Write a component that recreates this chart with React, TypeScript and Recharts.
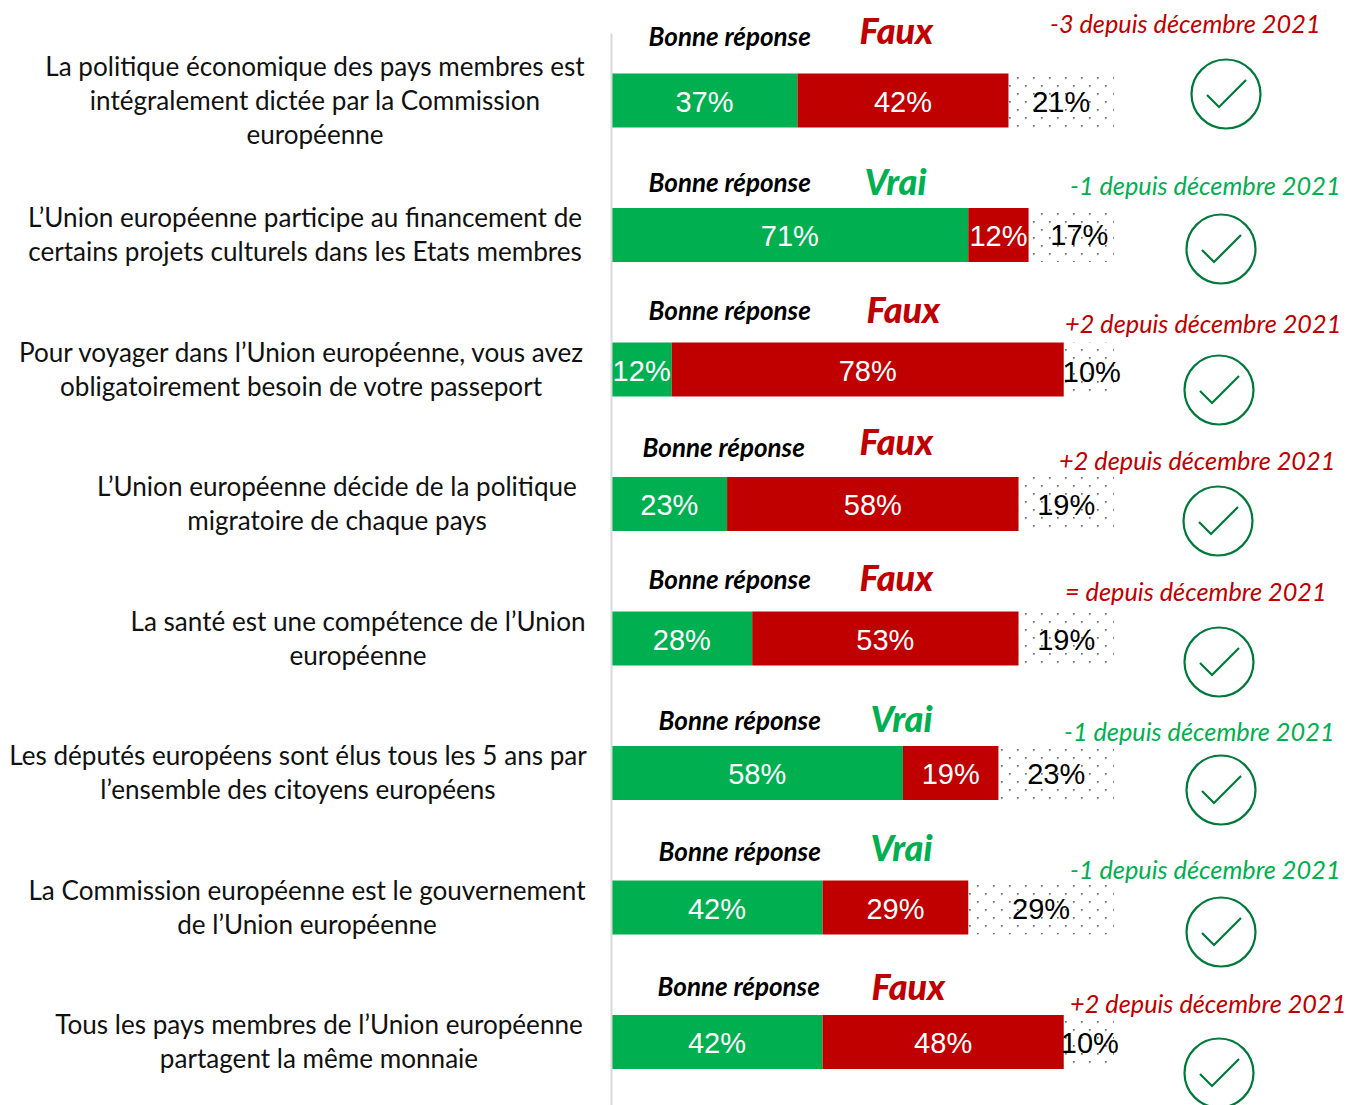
import React from 'react';
import { BarChart, Bar, XAxis, YAxis, LabelList } from 'recharts';

const questions = [
  ['La politique économique des pays membres est', 'intégralement dictée par la Commission', 'européenne'],
  ['L’Union européenne participe au financement de', 'certains projets culturels dans les Etats membres'],
  ['Pour voyager dans l’Union européenne, vous avez', 'obligatoirement besoin de votre passeport'],
  ['L’Union européenne décide de la politique', 'migratoire de chaque pays'],
  ['La santé est une compétence de l’Union', 'européenne'],
  ['Les députés européens sont élus tous les 5 ans par', 'l’ensemble des citoyens européens'],
  ['La Commission européenne est le gouvernement', 'de l’Union européenne'],
  ['Tous les pays membres de l’Union européenne', 'partagent la même monnaie'],
];
const correct = [37, 71, 12, 23, 28, 58, 42, 42];
const wrong = [42, 12, 78, 58, 53, 19, 29, 48];
const unknown = [21, 17, 10, 19, 19, 23, 29, 10];
const answers = ['Faux', 'Vrai', 'Faux', 'Faux', 'Faux', 'Vrai', 'Vrai', 'Faux'];
const changes = ['-3', '-1', '+2', '+2', '=', '-1', '-1', '+2'];
const changeTones = ['bad', 'good', 'bad', 'bad', 'bad', 'good', 'good', 'bad'];

// placement of the hand-laid annotations, in page pixels
const questionX = [315, 305, 301, 337, 358, 298, 307, 319];
const heading = [[648.5, 36], [648.5, 182], [648.5, 310], [642.5, 447], [648.5, 579], [658.5, 720], [658.5, 851], [657.5, 986]];
const answerPos = [[859.5, 30], [864.5, 181], [866.5, 309], [859.5, 441], [859.5, 577], [870.5, 718], [870.5, 847], [871.5, 986]];
const changePos = [[1050, 23], [1070, 185], [1065, 323], [1059, 460], [1065, 591], [1064, 731], [1070, 869], [1070, 1003]];
const checkPos = [[1226, 94], [1221, 249], [1219, 390], [1218, 521], [1219, 662], [1221, 790], [1221, 932], [1219, 1073]];
const unknownShift = [[0, 0], [8, -1], [3, 1], [0, 0], [0, 0], [0, 0], [0, 0], [1, 0]];

const GREEN = '#00b050';
const RED = '#c00000';
const BODY_FONT = 'Lato, sans-serif';
const PCT_FONT = '"Liberation Sans", Arial, sans-serif';

const data = questions.map((q, i) => ({
  question: q.join('\n'),
  correct: correct[i],
  wrong: wrong[i],
  unknown: unknown[i],
}));

const QuestionTick = (props: any) => {
  const lines = String(props.payload.value).split('\n');
  const x = questionX[props.index];
  const top = props.y - ((lines.length - 1) * 34) / 2 - 1;
  return (
    <g>
      {lines.map((line, i) => (
        <text key={i} x={x} y={top + i * 34} textAnchor="middle" dominantBaseline="central"
          fontFamily={BODY_FONT} fontSize={26.1} fill="#111">
          {line}
        </text>
      ))}
    </g>
  );
};

const pctLabel = (color: string, shifts?: number[][]) => (props: any) => {
  const shift = shifts ? shifts[props.index] : [0, 0];
  return (
    <text x={props.x + props.width / 2 + shift[0]} y={props.y + props.height / 2 + 1 + shift[1]}
      textAnchor="middle" dominantBaseline="central" fontFamily={PCT_FONT} fontSize={29} fill={color}>
      {props.value}%
    </text>
  );
};

const App = () => {
  return (
    <div style={{ position: 'absolute', left: 0, top: 0, width: 1348, height: 1105, overflow: 'hidden', background: '#fff' }}>
      <BarChart width={1348} height={1110} data={data} layout="vertical" barSize={54}
        margin={{ top: 33.5, right: 234, bottom: 0.5, left: 0 }}>
        <defs>
          <pattern id="dots" patternUnits="userSpaceOnUse" x={1009} y={69} width={16} height={16}>
            <rect x={0} y={0} width={1.7} height={1.7} fill="#6f6f6f" />
            <rect x={8} y={8} width={1.7} height={1.7} fill="#6f6f6f" />
          </pattern>
        </defs>
        <XAxis type="number" hide domain={[0, 100]} />
        <YAxis type="category" dataKey="question" width={611.5} interval={0} tickLine={false}
          axisLine={{ stroke: '#d9d9d9', strokeWidth: 2 }} tick={QuestionTick} />
        <Bar dataKey="correct" stackId="a" fill={GREEN} isAnimationActive={false}>
          <LabelList dataKey="correct" content={pctLabel('#fff')} />
        </Bar>
        <Bar dataKey="wrong" stackId="a" fill={RED} isAnimationActive={false}>
          <LabelList dataKey="wrong" content={pctLabel('#fff')} />
        </Bar>
        <Bar dataKey="unknown" stackId="a" fill="url(#dots)" isAnimationActive={false}>
          <LabelList dataKey="unknown" content={pctLabel('#000', unknownShift)} />
        </Bar>
        {answers.map((answer, i) => (
          <g key={i} fontFamily={BODY_FONT} fontStyle="italic">
            <text x={heading[i][0]} y={heading[i][1]} fontSize={26} fontWeight={700} fill="#000" dominantBaseline="central">
              Bonne réponse
            </text>
            <text x={answerPos[i][0]} y={answerPos[i][1]} fontSize={36} fontWeight={900}
              fill={answer === 'Vrai' ? GREEN : RED} dominantBaseline="central">
              {answer}
            </text>
            <text x={changePos[i][0]} y={changePos[i][1]} fontSize={25.3}
              fill={changeTones[i] === 'good' ? GREEN : RED} dominantBaseline="central">
              {changes[i]} depuis décembre 2021
            </text>
            <g transform={`translate(${checkPos[i][0]},${checkPos[i][1]})`} fill="none" stroke="#007a3a" strokeWidth={2.2}>
              <circle r={34.5} />
              <polyline points="-19,1 -7,13 20,-14" />
            </g>
          </g>
        ))}
      </BarChart>
    </div>
  );
};

export default App;
